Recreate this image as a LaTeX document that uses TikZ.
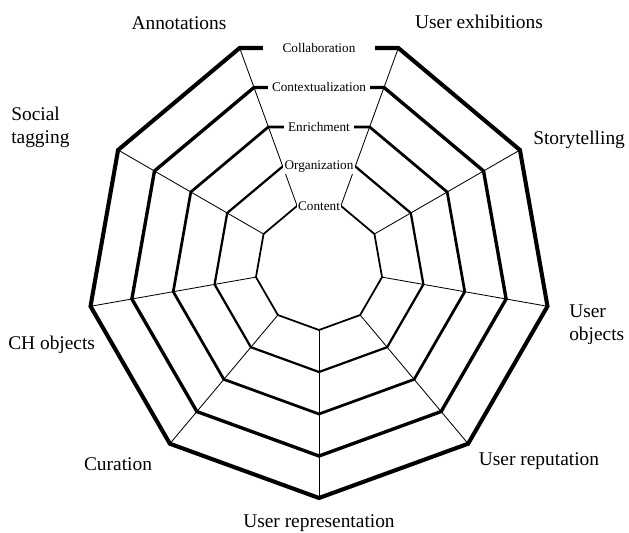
\documentclass[tikz,border=0pt]{standalone}
\usepackage{fontspec}
\setmainfont{Liberation Serif}
\begin{document}
\begin{tikzpicture}[x=0.025cm,y=0.025cm,
  spoke/.style={line width=0.6pt},
  level/.style={fill=white,inner xsep=3pt,inner ysep=1pt,font=\fontsize{9.4}{11}\selectfont},
  aspect/.style={font=\fontsize{13.8}{16.3}\selectfont,inner sep=0pt}]
\useasboundingbox (-319,-266) rectangle (310,266);
% corners of the nine-sided rings
\foreach \i/\r in {1/232,2/190,3/148,4/106,5/64}
  \foreach \k in {0,...,8}
    \coordinate (v\i-\k) at ({270+40*\k}:\r);
% spokes
\foreach \k in {0,...,8}
  \draw[spoke] (v5-\k) -- (v1-\k);
% rings
\foreach \i/\w in {1/2.9,2/2.4,3/1.95,4/1.6,5/1.25}
  \draw[line width=\w pt] (v\i-0) -- (v\i-1) -- (v\i-2) -- (v\i-3) -- (v\i-4)
    -- (v\i-5) -- (v\i-6) -- (v\i-7) -- (v\i-8) -- cycle;
% levels on the top edges
\path (v1-4) -- (v1-5) node[midway,level,minimum width=79pt] (lev1) {Collaboration};
\path (v2-4) -- (v2-5) node[midway,level] (lev2) {Contextualization};
\path (v3-4) -- (v3-5) node[midway,level] (lev3) {Enrichment};
\path (v4-4) -- (v4-5) node[midway,level,inner xsep=1pt] (lev4) {Organization};
\path (v5-4) -- (v5-5) node[midway,level,inner xsep=1pt] (lev5) {Content};
% aspects round the outside
\node[aspect] (annot) at (-140,243) {Annotations};
\node[aspect] (exhib) at (160,244) {User exhibitions};
\node[aspect,anchor=base west] (story) at (214,121) {Storytelling};
\node[aspect,anchor=west,align=left] (uobj) at (250,-59) {User\\objects};
\node[aspect,anchor=west,align=left] (tag) at (-308,139) {Social\\tagging};
\node[aspect,anchor=west] (chobj) at (-311,-79) {CH objects};
\node[aspect] (cur) at (-201,-198) {Curation};
\node[aspect] (urep) at (220,-195) {User reputation};
\node[aspect] (urepr) at (0,-257) {User representation};
\end{tikzpicture}
\end{document}
